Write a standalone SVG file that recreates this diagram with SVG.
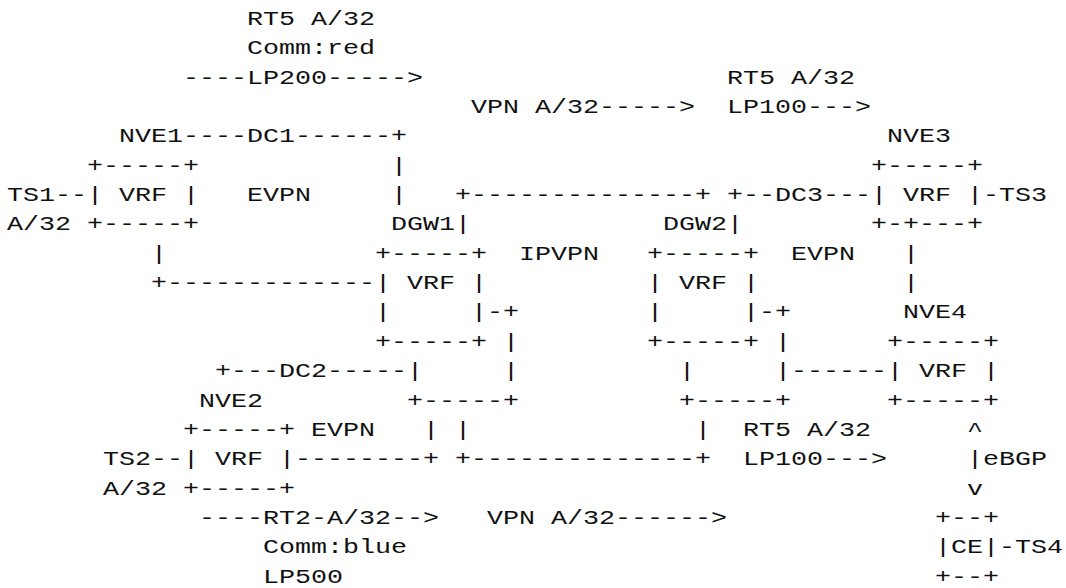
<svg xmlns="http://www.w3.org/2000/svg" width="1066" height="588" viewBox="0 0 1066 588" xml:space="preserve">
<style>
text { font-family: "Liberation Mono", "Courier New", monospace; font-size: 20px; fill: #111; white-space: pre; }
</style>
<rect width="1066" height="588" fill="#ffffff"/>
<g transform="scale(1.333333,1)">
  <g id="labels">
    <text x="185.25" y="25">RT5 A/32</text>
    <text x="185.25" y="54.35">Comm:red</text>
    <text x="137.25" y="83.7">----LP200-----&gt;</text>
    <text x="545.25" y="83.7">RT5 A/32</text>
    <text x="353.25" y="113.05">VPN A/32-----&gt;</text>
    <text x="545.25" y="113.05">LP100---&gt;</text>
    <text x="185.25" y="201.1">EVPN</text>
    <text x="389.25" y="259.8">IPVPN</text>
    <text x="593.25" y="259.8">EVPN</text>
    <text x="233.25" y="435.9">EVPN</text>
    <text x="557.25" y="435.9">RT5 A/32</text>
    <text x="557.25" y="465.25">LP100---&gt;</text>
    <text x="737.25" y="465.25">eBGP</text>
    <text x="149.25" y="523.95">----RT2-A/32--&gt;</text>
    <text x="365.25" y="523.95">VPN A/32------&gt;</text>
    <text x="197.25" y="553.3">Comm:blue</text>
    <text x="197.25" y="582.65">LP500</text>
  </g>
  <g id="TS1">
    <text x="5.25" y="201.1">TS1</text>
    <text x="5.25" y="230.45">A/32</text>
  </g>
  <g id="NVE1">
    <text x="89.25" y="142.4">NVE1</text>
    <text x="65.25" y="171.75">+-----+</text>
    <text x="65.25" y="201.1">| VRF |</text>
    <text x="65.25" y="230.45">+-----+</text>
  </g>
  <g id="NVE3">
    <text x="665.25" y="142.4">NVE3</text>
    <text x="653.25" y="171.75">+-----+</text>
    <text x="653.25" y="201.1">| VRF |</text>
    <text x="653.25" y="230.45">+-+---+</text>
  </g>
  <g id="TS3">
    <text x="749.25" y="201.1">TS3</text>
  </g>
  <g id="DGW1">
    <text x="293.25" y="230.45">DGW1</text>
    <text x="281.25" y="259.8">+-----+</text>
    <text x="281.25" y="289.15">| VRF |</text>
    <text x="281.25" y="318.5">|     |</text>
    <text x="281.25" y="347.85">+-----+</text>
  </g>
  <g id="DGW2">
    <text x="497.25" y="230.45">DGW2</text>
    <text x="485.25" y="259.8">+-----+</text>
    <text x="485.25" y="289.15">| VRF |</text>
    <text x="485.25" y="318.5">|     |</text>
    <text x="485.25" y="347.85">+-----+</text>
  </g>
  <g id="NVE4">
    <text x="677.25" y="318.5">NVE4</text>
    <text x="665.25" y="347.85">+-----+</text>
    <text x="665.25" y="377.2">| VRF |</text>
    <text x="665.25" y="406.55">+-----+</text>
  </g>
  <g id="NVE2">
    <text x="149.25" y="406.55">NVE2</text>
    <text x="137.25" y="435.9">+-----+</text>
    <text x="137.25" y="465.25">| VRF |</text>
    <text x="137.25" y="494.6">+-----+</text>
  </g>
  <g id="TS2">
    <text x="77.25" y="465.25">TS2</text>
    <text x="77.25" y="494.6">A/32</text>
  </g>
  <g id="CE">
    <text x="701.25" y="523.95">+--+</text>
    <text x="701.25" y="553.3">|CE|</text>
    <text x="701.25" y="582.65">+--+</text>
  </g>
  <g id="TS4">
    <text x="761.25" y="553.3">TS4</text>
  </g>
  <g id="connectors">
    <text x="137.25" y="142.4">----DC1------+</text>
    <text x="293.25" y="171.75">|</text>
    <text x="41.25" y="201.1">--</text>
    <text x="293.25" y="201.1">|</text>
    <text x="341.25" y="201.1">+--------------+</text>
    <text x="545.25" y="201.1">+--DC3---</text>
    <text x="737.25" y="201.1">-</text>
    <text x="341.25" y="230.45">|</text>
    <text x="545.25" y="230.45">|</text>
    <text x="113.25" y="259.8">|</text>
    <text x="677.25" y="259.8">|</text>
    <text x="113.25" y="289.15">+-------------</text>
    <text x="677.25" y="289.15">|</text>
    <text x="365.25" y="318.5">-+</text>
    <text x="569.25" y="318.5">-+</text>
    <text x="377.25" y="347.85">|</text>
    <text x="581.25" y="347.85">|</text>
    <text x="161.25" y="377.2">+---DC2-----|</text>
    <text x="377.25" y="377.2">|</text>
    <text x="509.25" y="377.2">|</text>
    <text x="581.25" y="377.2">|------</text>
    <text x="305.25" y="406.55">+-----+</text>
    <text x="509.25" y="406.55">+-----+</text>
    <text x="317.25" y="435.9">| |</text>
    <text x="521.25" y="435.9">|</text>
    <text x="725.25" y="435.9">^</text>
    <text x="113.25" y="465.25">--</text>
    <text x="221.25" y="465.25">--------+ +--------------+</text>
    <text x="725.25" y="465.25">|</text>
    <text x="725.25" y="494.6">v</text>
    <text x="749.25" y="553.3">-</text>
  </g>
</g>
</svg>
